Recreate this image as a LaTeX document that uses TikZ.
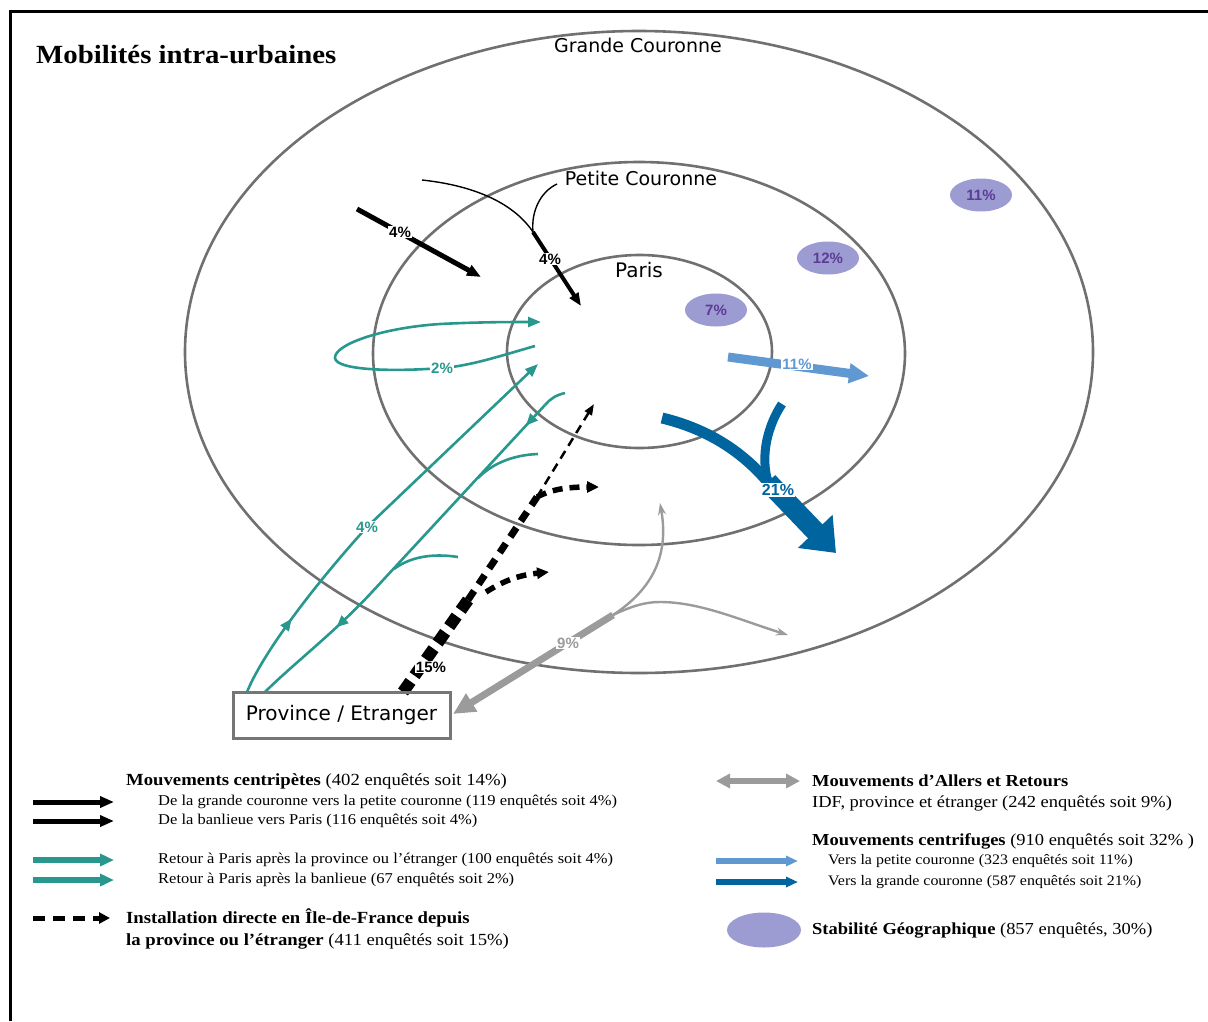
\documentclass[tikz,border=0pt]{standalone}
\usepackage{fontspec}
\setmainfont{Liberation Serif}[FakeStretch=1.1]
\newfontfamily\pctfont{Liberation Sans}
\newfontfamily\comicfont{DejaVu Sans}
\usetikzlibrary{arrows.meta,shapes.geometric,decorations.markings}
\definecolor{ringgray}{RGB}{112,112,112}
\definecolor{tealc}{RGB}{40,152,142}
\definecolor{lblue}{RGB}{96,152,210}
\definecolor{dblue}{RGB}{0,100,158}
\definecolor{purpfill}{RGB}{156,156,210}
\definecolor{purptext}{RGB}{92,60,150}
\definecolor{graya}{RGB}{155,155,155}
\definecolor{boxgray}{RGB}{118,118,118}
\begin{document}
\begin{tikzpicture}[x=1pt,y=-1pt,
  ring/.style={draw=ringgray,line width=2.6pt},
  ringlabel/.style={font=\comicfont\fontsize{19}{21}\selectfont,inner sep=0pt},
  pct/.style={font=\pctfont\bfseries\fontsize{15}{17}\selectfont,inner sep=1pt},
  pctw/.style={pct,fill=white},
  stab/.style={ellipse,fill=purpfill,minimum width=62pt,minimum height=33pt,inner sep=0pt,
    font=\pctfont\bfseries\fontsize{15}{17}\selectfont,text=purptext},
  blkarrow/.style={black,line width=5pt,-{Triangle[length=14pt,width=11pt]}},
  thinblk/.style={black,line width=1.4pt},
  tealline/.style={tealc,line width=2.6pt},
  tealtip/.style={-{Triangle[length=13pt,width=10pt]}},
  midarrows/.style 2 args={postaction={decorate},decoration={markings,
    mark=at position #1 with {\arrow{Triangle[length=12pt,width=10pt]}},
    mark=at position #2 with {\arrow{Triangle[length=12pt,width=10pt]}}}},
  midarrow/.style={postaction={decorate},decoration={markings,
    mark=at position #1 with {\arrow{Triangle[length=12pt,width=10pt]}}}},
  dashA/.style={black,line width=12pt,dash pattern=on 13pt off 7pt},
  dashB/.style={black,line width=7pt,dash pattern=on 11pt off 8pt},
  dashC/.style={black,line width=2.5pt,dash pattern=on 9pt off 6pt},
  graythick/.style={graya,line width=7pt},
  graythin/.style={graya,line width=2.4pt},
  legtext/.style={anchor=west,inner sep=0pt,font=\fontsize{17}{19}\selectfont},
  legsub/.style={anchor=west,inner sep=0pt,font=\fontsize{15}{17}\selectfont},
  legtextR/.style={anchor=west,inner sep=0pt,font=\fontsize{16.8}{19}\selectfont},
  legsubR/.style={anchor=west,inner sep=0pt,font=\fontsize{14.5}{17}\selectfont}
]
\useasboundingbox (0,0) rectangle (1208,1021);
% frame
\draw[black,line width=3pt] (10,1021) -- (10,11) -- (1208,11);

% title
\node[anchor=west,inner sep=0pt,font=\bfseries\fontsize{26.2}{30}\selectfont] (title) at (36,55) {Mobilités intra-urbaines};

% rings
\draw[ring] (639,352) ellipse [x radius=454pt, y radius=321pt];
\draw[ring] (639,353.5) ellipse [x radius=266pt, y radius=191.5pt];
\draw[ring] (639.5,351.5) ellipse [x radius=132.5pt, y radius=96.5pt];
\node[ringlabel] (lgc) at (638,45) {Grande Couronne};
\node[ringlabel] (lpc) at (641,178) {Petite Couronne};
\node[ringlabel,font=\comicfont\fontsize{20}{22}\selectfont] (lpa) at (639,270) {Paris};

% stability ellipses
\node[stab] (s11) at (981,195) {11\%};
\node[stab] (s12) at (828,258) {12\%};
\node[stab] (s7) at (716,310) {7\%};

% black arrows (centripetes)
\coordinate (b1s) at (357,209);
\coordinate (b1e) at (481,277);
\draw[blkarrow] (b1s) -- (b1e);
\node[pctw] (p4a) at (400,232) {4\%};

\coordinate (c1s) at (422,180);
\coordinate (c2s) at (557,184);
\coordinate (cj) at (533,232);
\coordinate (ce) at (581,306);
\draw[thinblk] (c1s) .. controls (478,186) and (515,205) .. (cj);
\draw[thinblk] (c2s) .. controls (540,192) and (531,212) .. (cj);
\draw[black,line width=4pt,-{Triangle[length=13pt,width=10pt]}] (cj) -- (ce);
\node[pctw] (p4b) at (550,259) {4\%};

% teal loop 2%
\coordinate (t2s) at (535,346);
\coordinate (t2e) at (541,322);
\draw[tealline,tealtip] (t2s) .. controls (500,356) and (470,366) .. (442,368)
   .. controls (390,372) and (336,370) .. (335,358)
   .. controls (334,345) and (380,328) .. (440,324)
   .. controls (480,322) and (510,322) .. (t2e);
\node[pctw,text=tealc] (p2) at (442,368) {2\%};

% teal 4% to Paris
\coordinate (t4s) at (247,692);
\coordinate (t4m) at (367,527);
\coordinate (t4e) at (538,364);
\draw[tealline,midarrow=0.42] (t4s) .. controls (262,655) and (310,590) .. (t4m);
\draw[tealline,tealtip] (t4m) -- (t4e);
\node[pctw,text=tealc] (p4c) at (t4m) {4\%};

% teal return line with branches
\coordinate (r0) at (565,393);
\coordinate (r1) at (545,405);
\coordinate (r2) at (372,592);
\coordinate (r3) at (265,692);
\draw[tealline] (r0) .. controls (556,395) and (550,399) .. (r1);
\draw[tealline,midarrows={0.07}{0.76}] (r1) -- (r2)
   .. controls (335,632) and (292,665) .. (r3);
\coordinate (rb1) at (538,454);
\coordinate (rj1) at (478,478);
\draw[tealline] (rb1) .. controls (512,455) and (492,464) .. (rj1);
\coordinate (rb2) at (458,557);
\coordinate (rj2) at (394,569);
\draw[tealline] (rb2) .. controls (432,553) and (410,557) .. (rj2);

% black dashed (installation directe)
\coordinate (d0) at (403,692);
\coordinate (d1) at (468,600);
\coordinate (d2) at (537,497);
\coordinate (d3) at (594,404);
\draw[dashA] (d0) -- (d1);
\draw[dashB] (d1) -- (d2);
\draw[dashC,-{Triangle[length=11pt,width=8pt]}] (d2) -- (d3);
\coordinate (du) at (599,487);
\draw[black,line width=5.5pt,dash pattern=on 10pt off 7pt,-{Triangle[length=12pt,width=11pt]}]
   (d2) .. controls (550,490) and (565,487) .. (du);
\coordinate (dls) at (486,592);
\coordinate (dle) at (549,572);
\draw[black,line width=5.5pt,dash pattern=on 10pt off 7pt,-{Triangle[length=12pt,width=11pt]}]
   (dls) .. controls (505,580) and (520,575) .. (dle);
\node[pctw] (p15) at (431,667) {15\%};

% gray aller-retour
\coordinate (g0) at (453,714);
\coordinate (gj) at (613,615);
\coordinate (gu) at (660,503);
\coordinate (gr) at (788,635);
\draw[graythick,{Triangle[length=22pt,width=20pt]}-] (g0) -- (gj);
\draw[graythin,-{Stealth[length=12pt,width=8pt]}] (gj) .. controls (648,592) and (670,560) .. (gu);
\draw[graythin,-{Stealth[length=12pt,width=8pt]}] (gj) .. controls (632,606) and (645,602) .. (660,602)
   .. controls (700,602) and (740,620) .. (gr);
\node[pctw,text=graya] (p9) at (568,643) {9\%};

% light blue 11%
\coordinate (l0) at (728,357);
\coordinate (l1) at (869,376);
\draw[lblue,line width=9pt,-{Triangle[length=20pt,width=19pt]}] (l0) -- (l1);
\node[pctw,text=lblue] (p11) at (797,364) {11\%};

% dark blue 21%
\coordinate (k0) at (662,418);
\coordinate (kb) at (782,404);
\coordinate (kj) at (768,482);
\coordinate (ke) at (836,553);
\draw[dblue,line width=11pt] (k0) .. controls (712,430) and (745,455) .. (kj);
\draw[dblue,line width=9pt] (kb) .. controls (768,425) and (760,455) .. (kj);
\draw[dblue,line width=20pt,-{Triangle[length=30pt,width=46pt]}] (kj) -- (ke);
\node[pctw,text=dblue,font=\pctfont\bfseries\fontsize{16}{18}\selectfont] (p21) at (778,490) {21\%};

% province box
\node[draw=boxgray,line width=3pt,minimum width=217pt,minimum height=46pt,inner sep=0pt,
  font=\comicfont\fontsize{20}{22}\selectfont] (prov) at (341.5,715) {Province / Etranger};

% ---------------- legend left
\node[legtext] (lh1) at (126,781) {\textbf{Mouvements centripètes} (402 enquêtés soit 14\%)};
\coordinate (la1s) at (33,802); \coordinate (la1e) at (114,802);
\draw[blkarrow] (la1s) -- (la1e);
\node[legsub] (ls1) at (158,802) {De la grande couronne vers la petite couronne (119 enquêtés soit 4\%)};
\coordinate (la2s) at (33,821); \coordinate (la2e) at (114,821);
\draw[blkarrow] (la2s) -- (la2e);
\node[legsub] (ls2) at (158,821) {De la banlieue vers Paris (116 enquêtés soit 4\%)};
\coordinate (la3s) at (33,860); \coordinate (la3e) at (114,860);
\draw[tealc,line width=6pt,-{Triangle[length=14pt,width=12pt]}] (la3s) -- (la3e);
\node[legsub] (ls3) at (158,860) {Retour à Paris après la province ou l'étranger (100 enquêtés soit 4\%)};
\coordinate (la4s) at (33,880); \coordinate (la4e) at (114,880);
\draw[tealc,line width=6pt,-{Triangle[length=14pt,width=12pt]}] (la4s) -- (la4e);
\node[legsub] (ls4) at (158,880) {Retour à Paris après la banlieue (67 enquêtés soit 2\%)};
\coordinate (la5s) at (33,918); \coordinate (la5e) at (110,918);
\draw[black,line width=5pt,dash pattern=on 12pt off 8pt,-{Triangle[length=11pt,width=11pt]}] (la5s) -- (la5e);
\node[legtext] (ls5) at (126,918) {\textbf{Installation directe en Île-de-France depuis}};
\node[legtext] (ls6) at (126,941) {\textbf{la province ou l'étranger} (411 enquêtés soit 15\%)};

% ---------------- legend right
\coordinate (ra1s) at (716,781); \coordinate (ra1e) at (800,781);
\draw[graya,line width=6pt,{Triangle[length=14pt,width=14pt]}-{Triangle[length=14pt,width=14pt]}] (ra1s) -- (ra1e);
\node[legtextR] (rh1) at (812,781) {\textbf{Mouvements d'Allers et Retours}};
\node[legtextR] (rh2) at (812,803) {IDF, province et étranger (242 enquêtés soit 9\%)};
\node[legtextR] (rh3) at (812,841) {\textbf{Mouvements centrifuges} (910 enquêtés soit 32\% )};
\coordinate (ra2s) at (716,861); \coordinate (ra2e) at (798,861);
\draw[lblue,line width=6pt,-{Triangle[length=12pt,width=10pt]}] (ra2s) -- (ra2e);
\node[legsubR] (rs1) at (828,861) {Vers la petite couronne (323 enquêtés soit 11\%)};
\coordinate (ra3s) at (716,882); \coordinate (ra3e) at (798,882);
\draw[dblue,line width=6pt,-{Triangle[length=12pt,width=10pt]}] (ra3s) -- (ra3e);
\node[legsubR] (rs2) at (828,882) {Vers la grande couronne (587 enquêtés soit 21\%)};
\node[ellipse,fill=purpfill,minimum width=74pt,minimum height=35pt,inner sep=0pt] (rell) at (764,930) {};
\node[legtextR] (rs3) at (812,930) {\textbf{Stabilité Géographique} (857 enquêtés, 30\%)};
\end{tikzpicture}
\end{document}
